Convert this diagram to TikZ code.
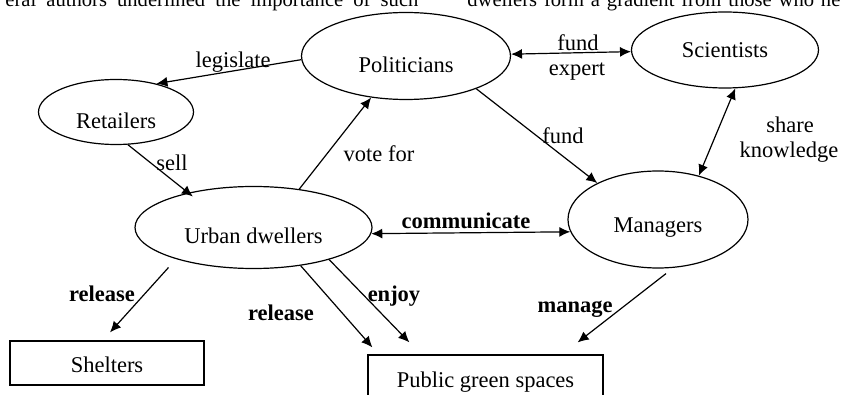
\documentclass[tikz,border=0pt]{standalone}
\usepackage{fontspec}
\setmainfont{Liberation Serif}
\usetikzlibrary{shapes.geometric,arrows.meta}

\begin{document}
\begin{tikzpicture}[
    x=0.5pt, y=-0.5pt,
    >={Latex[length=5.5pt,width=5pt]},
    font=\fontsize{11.25}{13.5}\selectfont,
    actor/.style={
        draw,
        ellipse,
        line width=0.6pt,
        inner sep=0pt,
        text depth=0pt
    },
    place/.style={
        draw,
        rectangle,
        line width=0.6pt,
        inner sep=0pt,
        text depth=0pt
    },
    arrow/.style={
        ->,
        line width=0.6pt
    },
    twoway/.style={
        <->,
        line width=0.6pt
    },
    verb/.style={
        anchor=base,
        inner sep=0pt
    },
    act/.style={
        verb,
        font=\fontsize{11.25}{13.5}\selectfont\bfseries
    },
    page/.style={
        anchor=base west,
        inner sep=0pt,
        font=\fontsize{10.3}{12}\selectfont
    }
]

    \useasboundingbox (0,0) rectangle (841,395);
    \clip (0,0) rectangle (841,395);

    % page text cut off above the figure
    \node[page] (textleft) at (5,7)
        {\makebox[206.5pt][s]{eral authors underlined the importance of such}};
    \node[page] (textright) at (467,7)
        {\makebox[186.5pt][s]{dwellers form a gradient from those who ne}};

    % actors
    \node[actor, minimum width=104.5pt, minimum height=43.5pt, text height=17pt]
        (pol) at (406,56) {Politicians\hspace{9pt}};
    \node[actor, minimum width=93.5pt, minimum height=38pt, text height=7.5pt]
        (sci) at (725,50) {Scientists};
    \node[actor, minimum width=77.5pt, minimum height=32.5pt, text height=17pt]
        (ret) at (116,112) {Retailers\hspace{13pt}};
    \node[actor, minimum width=118.5pt, minimum height=41pt, text height=16.5pt]
        (urb) at (253.5,227.5) {Urban dwellers\hspace{7pt}};
    \node[actor, minimum width=90pt, minimum height=48.5pt, text height=13.5pt]
        (man) at (658,219.5) {Managers};

    % places
    \node[place, minimum width=97pt, minimum height=22pt, text height=9.5pt]
        (shel) at (107,363) {Shelters};
    \node[place, minimum width=117.5pt, minimum height=27pt, text height=5pt]
        (green) at (485.5,382) {Public green spaces};

    % links
    \draw[arrow] (pol.182) -- (ret.35);
    \draw[arrow, shorten >=-3pt] (ret.290) -- (urb.152);
    \draw[arrow] (urb.40.8) -- (pol.230.3);
    \draw[twoway] (pol.1.6) -- (sci.181.8);
    \draw[arrow] (pol.335.7) -- (man.149);
    \draw[twoway] (sci.285) -- (man.47);
    \draw[twoway] (urb.357.6) -- (man.188.4);
    \draw[arrow] ([shift={(-85,40)}]urb.center) -- ([shift={(3,-8)}]shel.north);
    \draw[arrow] (urb.321.5) -- ([shift={(5,-7)}]green.north west);
    \draw[arrow] (urb.337.4) -- ([shift={(42,-12)}]green.north west);
    \draw[arrow] ([shift={(8,5)}]man.south) -- ([shift={(-26,-12)}]green.north east);

    % labels
    \node[verb] (legislate) at (233,68) {legislate};
    \node[verb] (sell) at (172,171) {sell};
    \node[verb] (votefor) at (379,162) {vote for};
    \node[verb] (fundsci) at (578,51) {fund};
    \node[verb] (expert) at (577,76) {expert};
    \node[verb] (fundman) at (563,144) {fund};
    \node[verb] (share) at (790,133) {share};
    \node[verb] (knowledge) at (789,158) {knowledge};
    \node[act] (communicate) at (466,229) {communicate};
    \node[act] (releaseshel) at (102,302) {release};
    \node[act] (releasegreen) at (281,321) {release};
    \node[act] (enjoy) at (394,302) {enjoy};
    \node[act] (manage) at (575,313) {manage};

\end{tikzpicture}
\end{document}
